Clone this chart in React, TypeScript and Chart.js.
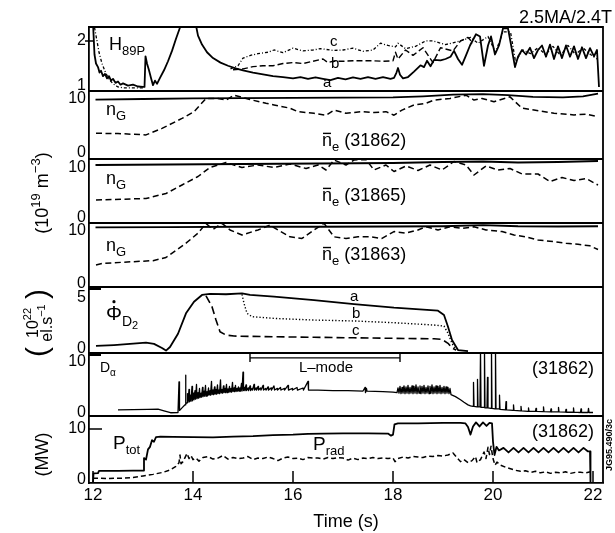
import React, { useEffect, useRef } from 'react';
import { Chart, registerables } from 'chart.js';

Chart.register(...registerables);

type Pt = [number, number | null];

// ---------- tick values ----------
const X_TICKS = [12, 14, 16, 18, 20, 22];
const H_TICKS = [1, 2];
const N_TICKS = [0, 10];
const PHI_TICKS = [0, 5];
const D_TICKS = [0, 10];
const P_TICKS = [0, 10];

// ---------- H89P (three shots a, b, c) ----------
const H89P_A: Pt[] = [
  [12.0, 2.4], [12.03, 1.7], [12.06, 1.5], [12.1, 1.42], [12.13, 1.3], [12.16, 1.34], [12.2, 1.22], [12.24, 1.27],
  [12.28, 1.17], [12.32, 1.22], [12.36, 1.12], [12.4, 1.16], [12.45, 1.07], [12.5, 1.1], [12.55, 1.03], [12.6, 1.06],
  [12.7, 1.01], [12.8, 1.03], [12.9, 0.99], [13.0, 0.98], [13.03, 0.98], [13.05, 1.66], [13.08, 1.5], [13.12, 1.35],
  [13.16, 1.18], [13.2, 1.02], [13.24, 1.12], [13.28, 1.05], [13.34, 1.18], [13.42, 1.35], [13.5, 1.55], [13.58, 1.78],
  [13.66, 2.05], [13.74, 2.3], [13.8, 2.4], [14.05, 2.4], [14.1, 2.12], [14.18, 1.92], [14.28, 1.75], [14.4, 1.62],
  [14.55, 1.52], [14.7, 1.45], [14.85, 1.39], [15.0, 1.35], [15.2, 1.3], [15.4, 1.26], [15.6, 1.22], [15.8, 1.2],
  [16.0, 1.17], [16.15, 1.2], [16.3, 1.16], [16.45, 1.19], [16.6, 1.16], [16.75, 1.13], [16.9, 1.18], [17.05, 1.15],
  [17.2, 1.19], [17.35, 1.16], [17.5, 1.2], [17.65, 1.16], [17.8, 1.2], [17.95, 1.16], [18.02, 1.18], [18.07, 1.3],
  [18.1, 1.4], [18.14, 1.25], [18.2, 1.17], [18.3, 1.2], [18.42, 1.32], [18.55, 1.46], [18.62, 1.42], [18.68, 1.56],
  [18.75, 1.44], [18.82, 1.58], [18.95, 1.57], [19.05, 1.6], [19.15, 1.65], [19.22, 1.78], [19.3, 1.6], [19.38, 1.47],
  [19.46, 1.68], [19.54, 1.9], [19.66, 2.15], [19.74, 2.1], [19.82, 1.45], [19.9, 1.9], [19.96, 2.1], [20.04, 1.7],
  [20.12, 1.9], [20.2, 2.28], [20.3, 2.28], [20.38, 1.8], [20.44, 1.42], [20.5, 1.65], [20.58, 1.8], [20.66, 1.7],
  [20.74, 1.85], [20.82, 1.62], [20.9, 1.8], [20.98, 1.9], [21.06, 1.65], [21.14, 1.92], [21.22, 1.6], [21.3, 1.88],
  [21.38, 1.62], [21.46, 1.9], [21.54, 1.65], [21.62, 1.88], [21.7, 1.6], [21.78, 1.86], [21.86, 1.62], [21.94, 1.84],
  [22.02, 1.66], [22.08, 1.8], [22.12, 0.98],
];
const H89P_B: Pt[] = [
  [14.8, 1.36], [15.0, 1.38], [15.2, 1.43], [15.4, 1.45], [15.6, 1.45], [15.8, 1.5], [16.0, 1.52], [16.2, 1.5],
  [16.4, 1.55], [16.6, 1.6], [16.7, 1.52], [16.8, 1.55], [17.0, 1.55], [17.2, 1.56], [17.4, 1.56], [17.6, 1.56],
  [17.8, 1.55], [18.0, 1.56], [18.05, 1.75], [18.1, 1.6], [18.25, 1.8], [18.4, 1.68], [18.6, 1.85], [18.8, 1.52],
  [18.95, 1.85], [19.2, 1.78], [19.35, 2.0], [19.5, 2.08], [19.6, 1.95],
];
const H89P_C: Pt[] = [
  [12.03, 2.3], [12.08, 2.0], [12.12, 1.75], [12.18, 1.5], [12.25, 1.3], [12.32, 1.15], [12.4, 1.05], [12.5, 0.98],
  [12.6, 0.96], [12.8, 0.96], [13.0, 0.96], [13.01, null],
  [14.75, 1.38], [14.9, 1.45], [15.0, 1.62], [15.15, 1.68], [15.3, 1.72], [15.5, 1.75], [15.62, 1.8], [15.8, 1.74],
  [16.0, 1.84], [16.2, 1.78], [16.4, 1.8], [16.55, 1.83], [16.8, 1.79], [17.0, 1.8], [17.2, 1.84], [17.4, 1.77],
  [17.6, 1.8], [17.75, 1.95], [17.9, 1.9], [18.05, 1.87], [18.1, 1.95], [18.25, 1.83], [18.45, 1.88], [18.65, 2.0],
  [18.8, 2.0], [19.05, 1.92], [19.2, 1.96], [19.4, 2.02], [19.55, 2.08], [19.7, 1.95], [19.9, 2.1], [20.05, 1.75],
  [20.2, 2.2], [20.35, 2.2], [20.45, 1.55], [20.6, 1.8], [20.75, 1.72], [20.9, 1.85], [21.05, 1.7], [21.2, 1.88],
  [21.35, 1.68], [21.5, 1.9], [21.65, 1.7], [21.8, 1.85], [21.95, 1.7], [22.08, 1.6],
];

// ---------- densities (10^19 m^-3) ----------
const NG_31862: Pt[] = [
  [12.05, 9.9], [13.0, 10.0], [14.0, 10.1], [15.0, 10.15], [16.0, 10.2], [17.0, 10.25], [18.0, 10.3], [18.6, 10.5],
  [19.2, 10.8], [19.8, 10.9], [20.3, 10.7], [20.8, 10.4], [21.4, 10.3], [21.8, 10.5], [22.1, 11.0],
];
const NE_31862: Pt[] = [
  [12.06, 3.65], [12.5, 3.6], [13.06, 3.35], [13.38, 4.55], [13.78, 6.4], [14.02, 7.65], [14.26, 10.1], [14.5, 10.1],
  [14.66, 9.8], [14.82, 10.7], [15.14, 9.9], [15.46, 9.2], [15.62, 8.9], [15.94, 8.3], [16.1, 7.65], [16.42, 7.35],
  [16.66, 7.0], [16.82, 7.95], [17.06, 7.35], [17.38, 7.65], [17.62, 7.5], [17.86, 7.65], [18.02, 7.0], [18.18, 7.95],
  [18.42, 8.9], [18.66, 9.2], [18.82, 9.8], [19.14, 10.1], [19.46, 10.7], [19.62, 9.8], [19.78, 10.1], [20.02, 9.5],
  [20.34, 10.4], [20.58, 8.3], [20.82, 7.95], [21.22, 7.35], [21.62, 7.05], [21.86, 7.2], [22.1, 6.7],
];
const NG_31865: Pt[] = [
  [12.05, 10.6], [13.5, 10.7], [15.0, 10.8], [16.5, 10.9], [18.0, 11.0], [19.0, 11.2], [19.8, 11.3], [20.5, 11.1],
  [21.3, 11.2], [22.1, 11.4],
];
const NE_31865: Pt[] = [
  [12.06, 3.6], [13.06, 3.9], [13.46, 4.9], [13.78, 6.6], [14.1, 8.3], [14.34, 10.1], [14.66, 11.1], [14.98, 10.1],
  [15.3, 10.6], [15.62, 10.1], [15.94, 10.8], [16.26, 9.9], [16.5, 10.6], [16.66, 9.6], [16.82, 11.6], [17.06, 10.6],
  [17.22, 11.6], [17.46, 11.7], [17.62, 9.6], [17.86, 10.6], [18.02, 9.3], [18.26, 10.4], [18.5, 9.5], [18.74, 10.6],
  [18.98, 9.6], [19.22, 11.3], [19.46, 10.6], [19.62, 8.6], [19.86, 10.4], [20.1, 9.6], [20.34, 9.9], [20.58, 8.8],
  [20.9, 8.8], [21.14, 7.3], [21.38, 8.1], [21.62, 7.5], [21.86, 7.9], [22.1, 6.6],
];
const NG_31863: Pt[] = [
  [12.05, 10.7], [13.5, 10.75], [15.0, 10.8], [16.5, 10.8], [18.0, 10.85], [19.0, 10.9], [19.8, 11.1], [20.5, 10.9],
  [21.3, 10.85], [22.1, 10.9],
];
const NE_31863: Pt[] = [
  [12.06, 3.6], [12.2, 3.9], [12.4, 4.0], [12.8, 4.2], [13.2, 4.4], [13.46, 5.0], [13.7, 6.6], [13.86, 7.7],
  [14.1, 9.6], [14.26, 11.4], [14.4, 10.3], [14.58, 11.45], [14.74, 10.2], [14.98, 9.25], [15.3, 10.2], [15.54, 11.1],
  [15.7, 10.2], [15.94, 8.9], [16.18, 8.6], [16.42, 10.2], [16.62, 11.45], [16.82, 8.9], [17.06, 8.6], [17.3, 8.9],
  [17.54, 8.9], [17.78, 8.6], [18.02, 9.9], [18.26, 9.6], [18.5, 10.2], [18.66, 10.8], [18.9, 10.2], [19.14, 10.8],
  [19.38, 10.5], [19.62, 10.8], [19.86, 10.2], [20.18, 9.9], [20.42, 9.25], [20.66, 8.9], [20.9, 8.3], [21.22, 8.0],
  [21.46, 7.7], [21.7, 7.5], [21.94, 7.2], [22.1, 6.5],
];

// ---------- D2 fuelling (10^22 el/s) ----------
const PHI_A: Pt[] = [
  [12.06, 0.3], [12.42, 0.39], [12.74, 0.5], [13.06, 0.62], [13.22, 0.5], [13.38, 0.1], [13.46, -0.15], [13.54, 0.2],
  [13.7, 1.5], [13.86, 3.5], [14.02, 4.64], [14.18, 5.3], [14.34, 5.4], [14.66, 5.37], [14.98, 5.46], [15.14, 5.3],
  [15.62, 5.13], [16.42, 4.8], [17.22, 4.41], [18.02, 4.05], [18.9, 3.76], [19.02, 3.33], [19.1, 2.19], [19.18, 0.88],
  [19.3, -0.1], [19.5, -0.2],
];
const PHI_B: Pt[] = [
  [14.98, 5.35], [15.02, 4.48], [15.08, 3.5], [15.18, 3.17], [15.62, 3.0], [16.42, 2.84], [17.22, 2.75], [18.02, 2.58],
  [18.82, 2.35], [19.02, 2.25], [19.1, 1.54], [19.18, 0.56], [19.26, -0.1],
];
const PHI_C: Pt[] = [
  [14.26, 5.2], [14.38, 4.15], [14.46, 2.84], [14.54, 1.7], [14.66, 1.37], [14.82, 1.27], [15.62, 1.2], [16.42, 1.15],
  [17.22, 1.1], [18.02, 1.05], [18.82, 1.0], [18.98, 0.95], [19.1, 0.56], [19.18, 0.1], [19.26, -0.1],
];

// ---------- D-alpha (31862) ----------
const D_ALPHA: Pt[] = [
  [12.5, 0.6], [12.8, 0.65], [13.1, 0.7], [13.3, 0.75], [13.42, 0.4], [13.55, 0.05], [13.7, 0.1], [13.72, 6.1],
  [13.73, 0.5], [13.78, 1.0], [13.84, 1.6], [13.85, 7.4], [13.86, 1.8],
  [13.88, 2.0], [13.89, 3.8], [13.9, 2.1], [13.92, 4.6], [13.93, 2.2], [13.95, 3.5], [13.96, 2.3], [13.98, 5.2],
  [13.99, 2.4], [14.01, 3.9], [14.02, 2.6], [14.04, 4.4], [14.05, 2.7], [14.07, 5.6], [14.08, 2.8], [14.1, 4.0],
  [14.11, 2.9], [14.13, 4.8], [14.14, 3.0], [14.16, 3.9], [14.17, 3.1], [14.19, 5.0], [14.2, 3.2], [14.22, 4.3],
  [14.23, 3.3], [14.25, 5.4], [14.26, 3.3], [14.28, 4.2], [14.29, 3.4], [14.31, 4.9], [14.32, 3.5], [14.34, 4.4],
  [14.35, 3.5], [14.37, 6.2], [14.38, 3.6], [14.4, 4.5], [14.41, 3.6], [14.43, 5.1], [14.44, 3.7], [14.46, 4.6],
  [14.47, 3.7], [14.49, 5.5], [14.5, 3.8], [14.52, 4.5], [14.53, 3.8], [14.55, 6.5], [14.56, 3.9], [14.58, 4.6],
  [14.59, 3.9], [14.61, 5.3], [14.62, 4.0], [14.64, 4.8], [14.65, 4.0], [14.67, 5.6], [14.68, 4.0], [14.7, 4.7],
  [14.71, 4.1], [14.73, 5.2], [14.74, 4.1], [14.76, 4.8], [14.77, 4.1], [14.79, 6.0], [14.8, 4.2], [14.82, 4.9],
  [14.83, 4.2], [14.85, 5.4], [14.86, 4.2], [14.88, 4.8], [14.89, 4.3], [14.91, 5.1], [14.92, 4.3], [14.94, 4.9],
  [14.95, 4.3], [14.97, 5.8], [14.98, 4.3], [15.0, 8.0], [15.01, 4.4], [15.03, 5.0], [15.04, 4.4], [15.06, 5.5],
  [15.07, 4.4], [15.1, 4.9], [15.11, 4.4], [15.14, 5.3], [15.15, 4.4], [15.18, 4.8], [15.19, 4.5], [15.22, 5.6],
  [15.23, 4.5], [15.26, 4.9], [15.27, 4.5], [15.3, 5.2], [15.31, 4.5], [15.35, 4.9], [15.36, 4.5], [15.4, 5.4],
  [15.41, 4.5], [15.45, 4.8], [15.46, 4.5], [15.5, 5.1], [15.51, 4.5], [15.56, 4.9], [15.57, 4.5], [15.62, 5.3],
  [15.63, 4.5], [15.68, 4.8], [15.69, 4.5], [15.75, 5.0], [15.76, 4.5], [15.82, 4.8], [15.83, 4.5], [15.9, 5.4],
  [15.91, 4.5], [15.98, 4.8], [15.99, 4.5], [16.08, 5.0], [16.09, 4.5], [16.2, 4.9], [16.21, 4.5], [16.3, 6.2],
  [16.31, 4.5], [16.5, 4.5], [16.8, 4.4], [17.1, 4.4], [17.4, 4.3], [17.44, 5.0], [17.45, 4.0], [17.47, 4.8],
  [17.48, 4.3], [17.8, 4.2], [18.0, 4.1], [18.08, 4.0],
  [18.1, 4.9], [18.12, 3.9], [18.14, 5.2], [18.16, 3.8], [18.18, 5.0], [18.2, 3.9], [18.22, 5.3], [18.24, 3.8],
  [18.26, 5.1], [18.28, 3.9], [18.3, 5.4], [18.32, 3.8], [18.34, 5.0], [18.36, 3.9], [18.38, 5.3], [18.4, 3.8],
  [18.42, 5.2], [18.44, 3.9], [18.46, 5.5], [18.48, 3.8], [18.5, 5.1], [18.52, 3.9], [18.54, 5.3], [18.56, 3.8],
  [18.58, 5.2], [18.6, 3.9], [18.62, 5.4], [18.64, 3.8], [18.66, 5.0], [18.68, 3.9], [18.7, 5.3], [18.72, 3.8],
  [18.74, 5.2], [18.76, 3.9], [18.78, 5.5], [18.8, 3.8], [18.82, 5.1], [18.84, 3.9], [18.86, 5.3], [18.88, 3.8],
  [18.9, 5.2], [18.92, 3.9], [18.94, 5.4], [18.96, 3.8], [18.98, 5.0], [19.0, 3.9], [19.02, 5.2], [19.04, 3.8],
  [19.06, 5.1], [19.08, 3.9], [19.1, 5.0], [19.12, 3.8], [19.14, 4.8], [19.16, 3.6],
  [19.25, 3.2], [19.35, 2.6], [19.42, 2.1], [19.5, 1.6], [19.55, 1.4],
  [19.6, 1.3], [19.61, 6.0], [19.62, 1.3], [19.68, 1.2], [19.69, 6.6], [19.7, 1.2], [19.74, 1.2], [19.75, 12],
  [19.76, 1.1], [19.82, 1.1], [19.83, 12], [19.84, 1.0], [19.88, 1.0], [19.89, 7.0], [19.9, 1.0], [19.96, 0.9],
  [19.97, 12], [19.98, 0.9], [20.04, 0.8], [20.05, 12], [20.06, 0.8], [20.12, 0.8], [20.13, 3.5], [20.14, 0.7],
  [20.25, 0.6], [20.26, 2.2], [20.27, 0.6], [20.4, 0.5], [20.41, 1.6], [20.42, 0.5], [20.55, 0.4], [20.56, 1.3],
  [20.57, 0.4], [20.7, 0.3], [20.71, 1.0], [20.72, 0.3], [20.85, 0.3], [20.86, 0.9], [20.87, 0.3], [21.0, 0.25],
  [21.01, 1.2], [21.02, 0.25], [21.15, 0.2], [21.16, 0.8], [21.17, 0.2], [21.3, 0.2], [21.31, 1.1], [21.32, 0.2],
  [21.45, 0.15], [21.46, 0.7], [21.47, 0.15], [21.6, 0.15], [21.61, 1.0], [21.62, 0.15], [21.75, 0.1], [21.76, 0.8],
  [21.77, 0.1], [21.9, 0.1], [21.91, 0.9], [21.92, 0.1], [22.0, 0.1],
];

// ---------- powers (MW) ----------
const P_TOT: Pt[] = [
  [12.0, -0.5], [12.01, 1.3], [12.1, 1.35], [12.12, 1.8], [12.5, 1.8], [12.8, 1.85], [13.0, 1.85], [13.02, 4.3],
  [13.06, 4.0], [13.1, 6.0], [13.14, 6.5], [13.18, 7.8], [13.22, 7.5], [13.26, 8.4], [13.35, 8.5], [13.6, 8.45],
  [14.0, 8.4], [14.4, 8.35], [14.8, 8.5], [15.2, 8.6], [15.6, 8.8], [16.0, 8.9], [16.3, 9.05], [16.6, 9.1],
  [17.0, 9.15], [17.5, 9.15], [17.9, 9.1], [17.96, 8.7], [18.0, 8.9], [18.03, 10.9], [18.1, 11.1], [18.5, 11.1],
  [19.0, 11.2], [19.35, 11.2], [19.45, 11.1], [19.5, 10.4], [19.55, 8.9], [19.6, 10.5], [19.66, 11.3], [19.73, 10.5],
  [19.8, 11.3], [19.87, 10.6], [19.93, 11.2], [19.98, 11.1], [20.0, 7.5], [20.03, 4.9], [20.07, 6.5], [20.12, 5.8],
  [20.21, 6.3], [20.31, 5.4], [20.41, 6.3], [20.51, 5.4], [20.61, 6.3], [20.71, 5.4], [20.81, 6.3], [20.91, 5.4],
  [21.01, 6.3], [21.11, 5.4], [21.21, 6.3], [21.31, 5.4], [21.41, 6.3], [21.51, 5.4], [21.61, 6.3], [21.71, 5.4],
  [21.81, 6.3], [21.9, 5.6], [21.94, 5.6], [21.95, -0.5],
];
const P_RAD: Pt[] = [
  [12.0, 0.35], [12.3, 0.3], [12.6, 0.35], [12.8, 0.5], [13.0, 0.8], [13.2, 1.1], [13.4, 1.5], [13.55, 2.0],
  [13.65, 2.6], [13.72, 3.4], [13.74, 4.9], [13.76, 3.2], [13.8, 3.6], [13.84, 4.4], [13.88, 5.2], [13.92, 4.2],
  [13.96, 4.8], [14.0, 4.0], [14.06, 4.3], [14.12, 3.7], [14.2, 4.4], [14.3, 4.6], [14.4, 4.1], [14.5, 4.3],
  [14.6, 4.8], [14.7, 4.1], [14.8, 4.4], [14.9, 4.2], [15.0, 4.3], [15.1, 4.6], [15.2, 4.0], [15.3, 4.3],
  [15.4, 4.2], [15.5, 4.5], [15.6, 4.2], [15.7, 3.8], [15.8, 4.3], [15.9, 4.5], [16.0, 4.2], [16.1, 4.3],
  [16.2, 4.0], [16.3, 4.4], [16.4, 4.3], [16.5, 4.3], [16.6, 4.1], [16.7, 4.4], [16.8, 4.2], [16.9, 4.4],
  [17.0, 4.3], [17.1, 3.9], [17.2, 4.3], [17.3, 4.0], [17.4, 4.3], [17.5, 4.2], [17.6, 4.4], [17.7, 4.2],
  [17.8, 4.3], [17.9, 4.2], [18.0, 4.3], [18.04, 3.6], [18.1, 4.2], [18.2, 4.5], [18.3, 4.3], [18.4, 4.6],
  [18.5, 4.5], [18.6, 4.4], [18.7, 4.7], [18.8, 4.6], [18.9, 4.8], [19.0, 4.7], [19.1, 4.9], [19.2, 5.3],
  [19.28, 4.4], [19.35, 3.6], [19.42, 4.0], [19.5, 3.4], [19.58, 3.8], [19.65, 4.6], [19.68, 3.4], [19.75, 4.0],
  [19.82, 5.5], [19.86, 4.2], [19.9, 6.4], [19.93, 5.0], [19.96, 6.6], [20.0, 4.2], [20.04, 2.9], [20.08, 3.5],
  [20.15, 2.9], [20.25, 2.5], [20.35, 2.2], [20.45, 1.9], [20.55, 1.7], [20.65, 1.8], [20.75, 1.5], [20.85, 1.7],
  [20.95, 1.4], [21.05, 1.6], [21.15, 1.3], [21.25, 1.5], [21.35, 1.4], [21.45, 1.6], [21.55, 1.3], [21.65, 1.5],
  [21.75, 1.5], [21.85, 1.4], [21.95, 1.6],
];

// ---------- layout / styling ----------
const FONT = "'Liberation Sans', Arial, Helvetica, sans-serif";
const W = 615;
const H = 533;

const PANELS = [
  { id: 'yH', min: 0.89, max: 2.31, weight: 64, ticks: H_TICKS },
  { id: 'yN1', min: -1.11, max: 11.48, weight: 68, ticks: N_TICKS },
  { id: 'yN2', min: -1.0, max: 11.8, weight: 64, ticks: N_TICKS },
  { id: 'yN3', min: -0.57, max: 11.51, weight: 64, ticks: N_TICKS },
  { id: 'yF', min: -0.39, max: 6.08, weight: 66, ticks: PHI_TICKS },
  { id: 'yD', min: -0.59, max: 11.76, weight: 63, ticks: D_TICKS },
  { id: 'yP', min: -0.59, max: 12.55, weight: 67, ticks: P_TICKS },
];

type Seg = { t: string; k?: 'sub' | 'sub2' | 'sup' | 'bar' | 'dot' };

const TEXTS: { y: string; x: number; v: number; size: number; align?: string; segs: Seg[] }[] = [
  { y: 'yH', x: 12.32, v: 1.8, size: 18, segs: [{ t: 'H' }, { t: '89P', k: 'sub' }] },
  { y: 'yH', x: 16.6, v: 0.98, size: 15, segs: [{ t: 'a' }] },
  { y: 'yH', x: 16.76, v: 1.4, size: 15, segs: [{ t: 'b' }] },
  { y: 'yH', x: 16.74, v: 1.89, size: 15, segs: [{ t: 'c' }] },
  { y: 'yN1', x: 12.26, v: 7.0, size: 18, segs: [{ t: 'n' }, { t: 'G', k: 'sub' }] },
  { y: 'yN1', x: 16.58, v: 1.3, size: 18, segs: [{ t: 'n', k: 'bar' }, { t: 'e', k: 'sub' }, { t: ' (31862)' }] },
  { y: 'yN2', x: 12.26, v: 6.8, size: 18, segs: [{ t: 'n' }, { t: 'G', k: 'sub' }] },
  { y: 'yN2', x: 16.58, v: 3.4, size: 18, segs: [{ t: 'n', k: 'bar' }, { t: 'e', k: 'sub' }, { t: ' (31865)' }] },
  { y: 'yN3', x: 12.26, v: 6.2, size: 18, segs: [{ t: 'n' }, { t: 'G', k: 'sub' }] },
  { y: 'yN3', x: 16.58, v: 4.5, size: 18, segs: [{ t: 'n', k: 'bar' }, { t: 'e', k: 'sub' }, { t: ' (31863)' }] },
  { y: 'yF', x: 12.26, v: 2.84, size: 20, segs: [{ t: 'Φ', k: 'dot' }, { t: 'D', k: 'sub' }, { t: '2', k: 'sub2' }] },
  { y: 'yF', x: 17.14, v: 4.7, size: 15, segs: [{ t: 'a' }] },
  { y: 'yF', x: 17.18, v: 3.04, size: 15, segs: [{ t: 'b' }] },
  { y: 'yF', x: 17.18, v: 1.37, size: 15, segs: [{ t: 'c' }] },
  { y: 'yD', x: 12.14, v: 8.0, size: 14, segs: [{ t: 'D' }, { t: 'α', k: 'sub' }] },
  { y: 'yD', x: 16.66, v: 8.04, size: 15, align: 'center', segs: [{ t: 'L–mode' }] },
  { y: 'yD', x: 22.02, v: 7.65, size: 18, align: 'right', segs: [{ t: '(31862)' }] },
  { y: 'yP', x: 12.4, v: 6.1, size: 19, segs: [{ t: 'P' }, { t: 'tot', k: 'sub' }] },
  { y: 'yP', x: 16.4, v: 5.9, size: 19, segs: [{ t: 'P' }, { t: 'rad', k: 'sub' }] },
  { y: 'yP', x: 22.02, v: 8.4, size: 18, align: 'right', segs: [{ t: '(31862)' }] },
];

const LMODE = { y: 'yD', x0: 15.14, x1: 18.14, v: 10.8 };

function segInfo(size: number, k?: string) {
  let s = size;
  let dy = 0;
  if (k === 'sub') { s = Math.round(size * 0.7); dy = size * 0.28; }
  if (k === 'sub2') { s = Math.round(size * 0.55); dy = size * 0.45; }
  if (k === 'sup') { s = Math.round(size * 0.7); dy = -size * 0.42; }
  return { s, dy, font: `${s}px ${FONT}` };
}

function drawRich(ctx: CanvasRenderingContext2D, x: number, y: number, segs: Seg[], size: number, align = 'left') {
  let w = 0;
  for (const g of segs) { ctx.font = segInfo(size, g.k).font; w += ctx.measureText(g.t).width; }
  let cx = align === 'right' ? x - w : align === 'center' ? x - w / 2 : x;
  ctx.textAlign = 'left';
  ctx.textBaseline = 'alphabetic';
  for (const g of segs) {
    const inf = segInfo(size, g.k);
    ctx.font = inf.font;
    ctx.fillText(g.t, cx, y + inf.dy);
    const gw = ctx.measureText(g.t).width;
    if (g.k === 'bar') {
      ctx.beginPath();
      ctx.lineWidth = 1.4;
      ctx.moveTo(cx + 1, y - size * 0.7);
      ctx.lineTo(cx + gw - 1, y - size * 0.7);
      ctx.stroke();
    }
    if (g.k === 'dot') {
      ctx.beginPath();
      ctx.arc(cx + gw / 2, y - size * 0.92, 1.6, 0, Math.PI * 2);
      ctx.fill();
    }
    cx += gw;
  }
}

function toXY(arr: Pt[]) {
  return arr.map(([x, y]) => ({ x, y }));
}

function line(data: Pt[], yAxisID: string, dash: number[] = [], width = 1.7) {
  return {
    data: toXY(data),
    yAxisID,
    xAxisID: 'x',
    borderColor: '#000',
    backgroundColor: '#000',
    borderWidth: width,
    borderDash: dash,
    borderJoinStyle: 'round',
    pointRadius: 0,
    pointHoverRadius: 0,
    tension: 0,
    fill: false,
    spanGaps: false,
  };
}

const panelClip = {
  id: 'panelClip',
  beforeDatasetDraw(chart: any, args: any) {
    const ys = args.meta.yScale;
    const a = chart.chartArea;
    const ctx = chart.ctx;
    ctx.save();
    ctx.beginPath();
    ctx.rect(a.left, ys.top, a.right - a.left, ys.bottom - ys.top);
    ctx.clip();
  },
  afterDatasetDraw(chart: any) {
    chart.ctx.restore();
  },
};

const whiteBg = {
  id: 'whiteBg',
  beforeDraw(chart: any) {
    const ctx = chart.ctx;
    ctx.save();
    ctx.fillStyle = '#fff';
    ctx.fillRect(0, 0, chart.width, chart.height);
    ctx.restore();
  },
};

const decorations = {
  id: 'decorations',
  afterDraw(chart: any) {
    const ctx: CanvasRenderingContext2D = chart.ctx;
    const a = chart.chartArea;
    const xs = chart.scales.x;
    ctx.save();
    ctx.strokeStyle = '#000';
    ctx.fillStyle = '#000';
    ctx.lineWidth = 1.8;
    // frame top and right
    ctx.beginPath();
    ctx.moveTo(a.left, a.top);
    ctx.lineTo(a.right, a.top);
    ctx.lineTo(a.right, a.bottom);
    ctx.stroke();
    // separators
    PANELS.slice(1).forEach((p) => {
      const s = chart.scales[p.id];
      ctx.beginPath();
      ctx.moveTo(a.left, s.top);
      ctx.lineTo(a.right, s.top);
      ctx.stroke();
    });
    // inner x ticks on the bottom panel
    ctx.lineWidth = 1.5;
    X_TICKS.forEach((v) => {
      const px = xs.getPixelForValue(v);
      ctx.beginPath();
      ctx.moveTo(px, a.bottom);
      ctx.lineTo(px, a.bottom - 12);
      ctx.stroke();
    });
    // y tick marks
    const yH = chart.scales.yH;
    const yP = chart.scales.yP;
    ctx.beginPath();
    ctx.moveTo(a.left - 4, yH.getPixelForValue(2));
    ctx.lineTo(a.left + 4, yH.getPixelForValue(2));
    ctx.moveTo(a.left, yP.getPixelForValue(10));
    ctx.lineTo(a.left + 13, yP.getPixelForValue(10));
    ctx.stroke();
    ctx.lineWidth = 3;
    ['yF', 'yD'].forEach((id) => {
      const s = chart.scales[id];
      ctx.beginPath();
      ctx.moveTo(a.left, s.top + 1.5);
      ctx.lineTo(a.left + 12, s.top + 1.5);
      ctx.stroke();
    });
    // L-mode bar
    ctx.lineWidth = 1.4;
    const ly = chart.scales[LMODE.y].getPixelForValue(LMODE.v);
    const lx0 = xs.getPixelForValue(LMODE.x0);
    const lx1 = xs.getPixelForValue(LMODE.x1);
    ctx.beginPath();
    ctx.moveTo(lx0, ly);
    ctx.lineTo(lx1, ly);
    ctx.moveTo(lx0, ly - 4);
    ctx.lineTo(lx0, ly + 4);
    ctx.moveTo(lx1, ly - 4);
    ctx.lineTo(lx1, ly + 4);
    ctx.stroke();
    // in-panel texts
    TEXTS.forEach((t) => {
      const px = xs.getPixelForValue(t.x);
      const py = chart.scales[t.y].getPixelForValue(t.v);
      drawRich(ctx, px, py, t.segs, t.size, t.align || 'left');
    });
    // top-right label
    drawRich(ctx, 612, 23, [{ t: '2.5MA/2.4T' }], 18, 'right');
    // y titles (rotated)
    const rot = (cx: number, cy: number, fn: () => void) => {
      ctx.save();
      ctx.translate(cx, cy);
      ctx.rotate(-Math.PI / 2);
      fn();
      ctx.restore();
    };
    const n1 = chart.scales.yN1;
    const n3 = chart.scales.yN3;
    rot(41, (n1.top + n3.bottom) / 2 + 4, () => {
      drawRich(ctx, 0, 6.5, [{ t: '(10' }, { t: '19', k: 'sup' }, { t: ' m' }, { t: '−3', k: 'sup' }, { t: ')' }], 18, 'center');
    });
    const yF = chart.scales.yF;
    rot(39, (yF.top + yF.bottom) / 2 + 3, () => {
      drawRich(ctx, 0, -1, [{ t: '10' }, { t: '22', k: 'sup' }], 16, 'center');
      drawRich(ctx, 0, 13, [{ t: 'el.s' }, { t: '−1', k: 'sup' }], 16, 'center');
      drawRich(ctx, -29, 8, [{ t: '(' }], 30, 'center');
      drawRich(ctx, 29, 8, [{ t: ')' }], 30, 'center');
    });
    rot(41, (yP.top + yP.bottom) / 2 + 5, () => {
      drawRich(ctx, 0, 6.5, [{ t: '(MW)' }], 18, 'center');
    });
    // figure reference
    rot(610, 445, () => {
      ctx.font = `bold 9px ${FONT}`;
      ctx.textAlign = 'center';
      ctx.textBaseline = 'middle';
      ctx.fillText('JG95.490/3c', 0, 0);
    });
    ctx.restore();
  },
};

export default function App() {
  const ref = useRef<HTMLCanvasElement | null>(null);

  useEffect(() => {
    const canvas = ref.current;
    if (!canvas) return;
    const tickFont = { family: FONT, size: 16 };
    const scales: any = {
      x: {
        type: 'linear',
        position: 'bottom',
        min: 11.92,
        max: 22.2,
        afterBuildTicks: (s: any) => { s.ticks = X_TICKS.map((v) => ({ value: v })); },
        afterFit: (s: any) => { s.height = 50; },
        grid: { display: false, drawTicks: false },
        border: { display: true, color: '#000', width: 1.8 },
        ticks: { padding: 2, color: '#000', font: { family: FONT, size: 17 }, maxRotation: 0, autoSkip: false },
        title: { display: true, text: 'Time (s)', color: '#000', font: { family: FONT, size: 18 }, padding: { top: 0, bottom: 0 } },
      },
    };
    PANELS.forEach((p, i) => {
      scales[p.id] = {
        type: 'linear',
        position: 'left',
        stack: 'panels',
        stackWeight: p.weight,
        weight: PANELS.length - i,
        min: p.min,
        max: p.max,
        afterBuildTicks: (s: any) => { s.ticks = p.ticks.map((v) => ({ value: v })); },
        afterFit: (s: any) => { s.width = 89; },
        grid: { display: false, drawTicks: false },
        border: { display: true, color: '#000', width: 1.8 },
        ticks: { padding: 3, color: '#000', font: tickFont, autoSkip: false },
      };
    });

    const chart = new Chart(canvas, {
      type: 'line',
      data: {
        datasets: [
          line(H89P_A, 'yH', [], 1.8),
          line(H89P_B, 'yH', [6, 3], 1.4),
          line(H89P_C, 'yH', [3, 2, 1, 2], 1.3),
          line(NG_31862, 'yN1', [], 1.8),
          line(NE_31862, 'yN1', [6, 3.5], 1.5),
          line(NG_31865, 'yN2', [], 1.8),
          line(NE_31865, 'yN2', [6, 3.5], 1.5),
          line(NG_31863, 'yN3', [], 1.8),
          line(NE_31863, 'yN3', [6, 3.5], 1.5),
          line(PHI_A, 'yF', [], 1.8),
          line(PHI_B, 'yF', [1.3, 2], 1.4),
          line(PHI_C, 'yF', [8, 4], 1.6),
          line(D_ALPHA, 'yD', [], 1.3),
          line(P_TOT, 'yP', [], 1.8),
          line(P_RAD, 'yP', [5, 3], 1.5),
        ] as any,
      },
      options: {
        responsive: false,
        animation: false,
        devicePixelRatio: 1,
        events: [],
        layout: { padding: { left: 0, top: 27, right: W - 603, bottom: 0 } },
        plugins: { legend: { display: false }, tooltip: { enabled: false }, title: { display: false } },
        scales,
      } as any,
      plugins: [whiteBg, panelClip, decorations],
    });
    return () => chart.destroy();
  }, []);

  return (
    <div style={{ position: 'absolute', left: 0, top: 0, width: W, height: H, background: '#fff' }}>
      <canvas ref={ref} width={W} height={H} style={{ display: 'block', width: W, height: H }} />
    </div>
  );
}
